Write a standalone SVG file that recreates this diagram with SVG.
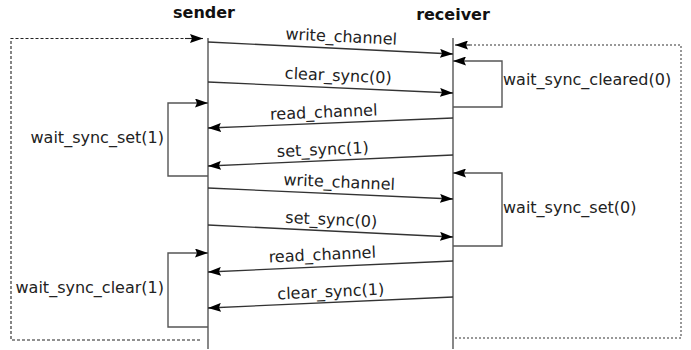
<svg xmlns="http://www.w3.org/2000/svg" width="691" height="350" viewBox="0 0 691 350">
<defs>
<marker id="ah" viewBox="0 0 13 9" refX="13" refY="4.5" markerWidth="13" markerHeight="9" markerUnits="userSpaceOnUse" orient="auto">
<path d="M0,0 L13,4.5 L0,9 L2,4.5 z" fill="#000"/>
</marker>
<style>
text{font-family:"DejaVu Sans",sans-serif;font-size:16px;fill:#222}
.title{font-weight:bold;fill:#111}
.life{stroke:#555;stroke-width:1.4;fill:none}
.msg{stroke:#333;stroke-width:1.3;fill:none;marker-end:url(#ah)}
.loop{stroke:#555;stroke-width:1.4;fill:none;marker-end:url(#ah)}
.dashL{stroke:#222;stroke-width:1.1;fill:none;stroke-dasharray:3,2}
.dotR{stroke:#777;stroke-width:1.5;fill:none;stroke-dasharray:2,2}
</style>
</defs>
<rect width="691" height="350" fill="#fff"/>
<g id="sender">
<text class="title" x="204" y="18" text-anchor="middle">sender</text>
<line class="life" x1="208" y1="38" x2="208" y2="349"/>
</g>
<g id="receiver">
<text class="title" x="453" y="20" text-anchor="middle">receiver</text>
<line class="life" x1="453" y1="38" x2="453" y2="349"/>
</g>
<g id="connectors">
<path class="dashL" d="M200,340 H11 V38.5 H190"/>
<path class="dashL" d="M185,38.5 H203" style="stroke-dasharray:none;marker-end:url(#ah)"/>
<path class="dotR" d="M455,338 H681 V45 H470"/>
<path d="M470,45 H455" style="stroke:#333;stroke-width:1.2;fill:none;marker-end:url(#ah)"/>
<line class="msg" x1="208" y1="42" x2="453" y2="54"/>
<line class="msg" x1="208" y1="82" x2="453" y2="93"/>
<line class="msg" x1="453" y1="118" x2="208" y2="128"/>
<line class="msg" x1="453" y1="155" x2="208" y2="166"/>
<line class="msg" x1="208" y1="188" x2="453" y2="199"/>
<line class="msg" x1="208" y1="225" x2="453" y2="237"/>
<line class="msg" x1="453" y1="261" x2="208" y2="272"/>
<line class="msg" x1="453" y1="297" x2="208" y2="308"/>
<path class="loop" d="M208,176 H168 V103 H208"/>
<path class="loop" d="M208,327 H168 V253 H208"/>
<path class="loop" d="M453,107 H502 V61 H453"/>
<path class="loop" d="M453,246 H502 V173 H453"/>
</g>
<g id="labels">
<text x="341" y="42" text-anchor="middle" transform="rotate(2.8 341 42)">write_channel</text>
<text x="338" y="81" text-anchor="middle" transform="rotate(2.57 338 81)">clear_sync(0)</text>
<text x="324" y="117.5" text-anchor="middle" transform="rotate(-2.34 324 117.5)">read_channel</text>
<text x="323" y="155" text-anchor="middle" transform="rotate(-2.57 323 155)">set_sync(1)</text>
<text x="339" y="187.5" text-anchor="middle" transform="rotate(2.57 339 187.5)">write_channel</text>
<text x="331" y="225" text-anchor="middle" transform="rotate(2.8 331 225)">set_sync(0)</text>
<text x="322.5" y="260" text-anchor="middle" transform="rotate(-2.57 322.5 260)">read_channel</text>
<text x="331" y="297" text-anchor="middle" transform="rotate(-2.57 331 297)">clear_sync(1)</text>
<text x="164" y="143" text-anchor="end">wait_sync_set(1)</text>
<text x="164" y="293" text-anchor="end">wait_sync_clear(1)</text>
<text x="503" y="85">wait_sync_cleared(0)</text>
<text x="503" y="213">wait_sync_set(0)</text>
</g>
</svg>
